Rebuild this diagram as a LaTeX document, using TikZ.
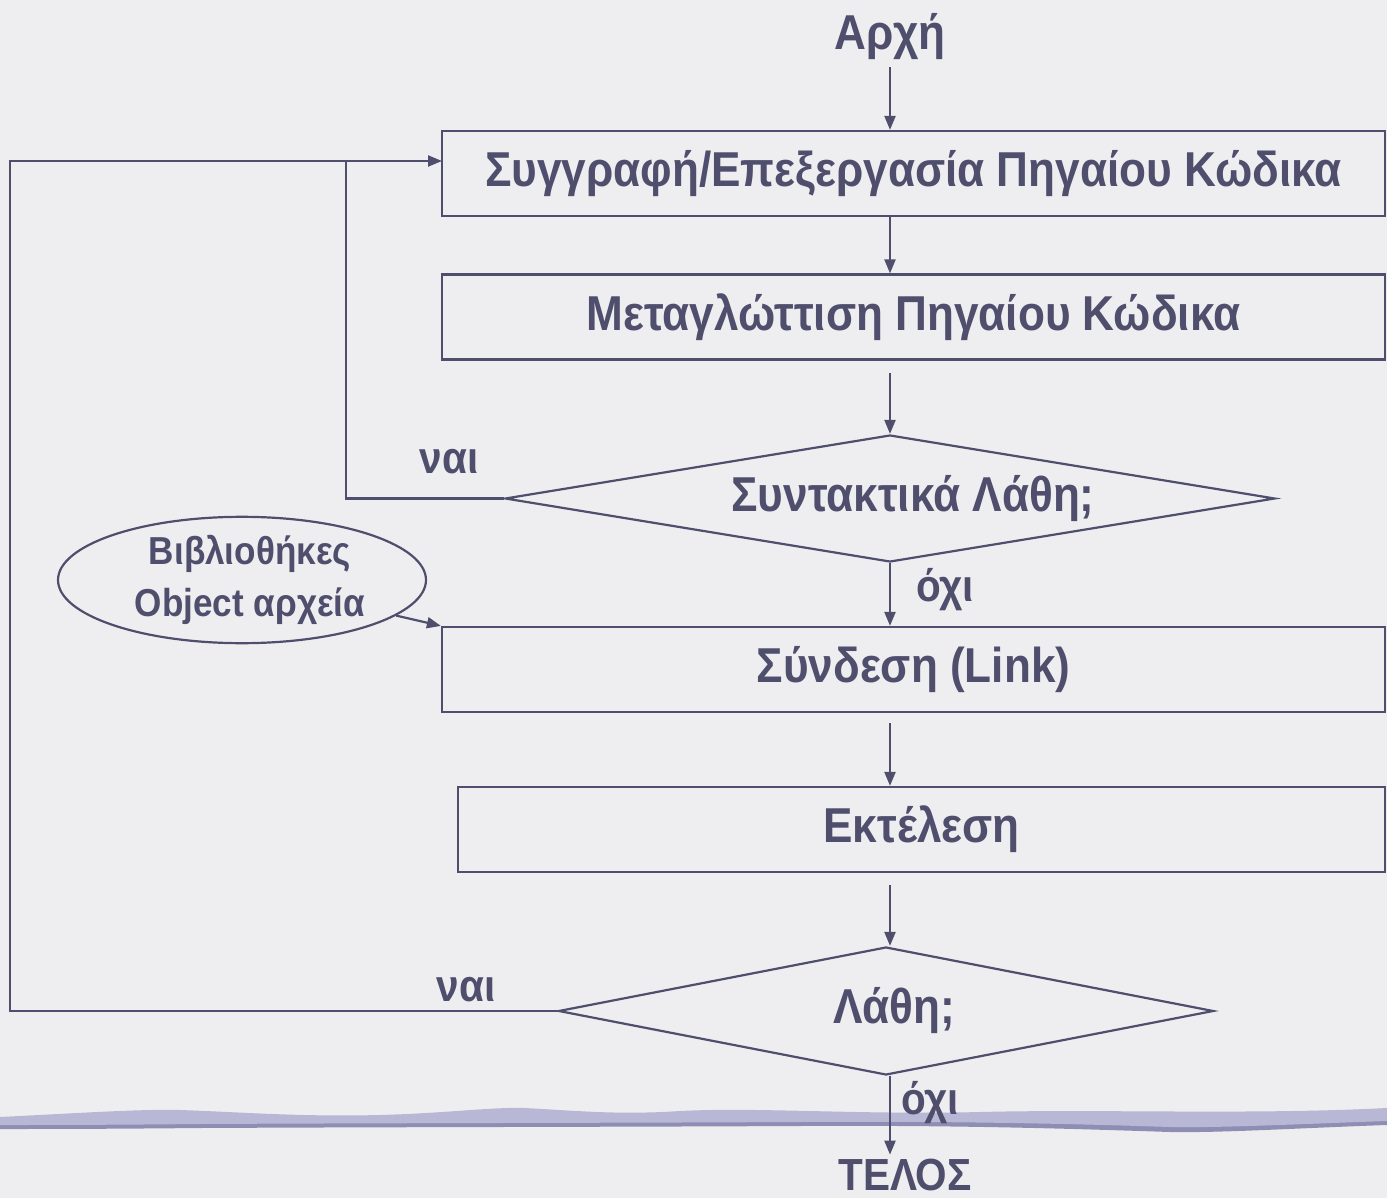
\documentclass[tikz,border=0pt]{standalone}
\usepackage{fontspec}
\newfontfamily\flowfont{Liberation Sans}[UprightFont=* Bold, FakeStretch=0.9]
\usetikzlibrary{shapes.geometric,arrows.meta,calc}
\definecolor{ink}{HTML}{4F4F6D}
\definecolor{paper}{HTML}{EEEEF1}
\definecolor{wave}{HTML}{B8B8D6}
\definecolor{wavedark}{HTML}{8E8EB4}

\begin{document}
\begin{tikzpicture}[x=0.5pt,y=-0.5pt,
  font=\flowfont\fontsize{24.5}{27}\selectfont,
  every node/.style={text=ink},
  box/.style={draw=ink, line width=1.1pt, rectangle, minimum height=42.5pt, inner sep=0pt},
  choice/.style={draw=ink, line width=1.1pt, diamond, inner sep=0pt},
  note/.style={draw=ink, line width=1.1pt, ellipse, minimum width=184pt, minimum height=62pt, inner sep=0pt},
  answer/.style={font=\flowfont\fontsize{22.5}{25}\selectfont},
  flow/.style={draw=ink, line width=1.1pt, -{Triangle[length=7pt,width=5.5pt]}},
  plain/.style={draw=ink, line width=1.1pt}]

% Background
\fill[paper] (0,0) rectangle (1387,1198);
\useasboundingbox (0,0) rectangle (1387,1198);

% Wavy band
\fill[wavedark] (0,1118) .. controls (80,1114) and (140,1110) .. (180,1111)
  .. controls (240,1113) and (300,1118) .. (380,1116)
  .. controls (450,1114) and (490,1108) .. (525,1109)
  .. controls (580,1112) and (620,1116) .. (680,1112)
  .. controls (760,1108) and (860,1116) .. (980,1113)
  .. controls (1100,1110) and (1250,1116) .. (1387,1109)
  -- (1387,1125) .. controls (1300,1128) and (1220,1133) .. (1170,1132)
  .. controls (1080,1129) and (960,1125) .. (800,1126)
  .. controls (600,1127) and (400,1127) .. (200,1128)
  .. controls (100,1129) and (40,1129) .. (0,1129) -- cycle;
\fill[wave] (0,1117) .. controls (80,1113) and (140,1109) .. (180,1110)
  .. controls (240,1112) and (300,1117) .. (380,1115)
  .. controls (450,1113) and (490,1107) .. (525,1108)
  .. controls (580,1111) and (620,1115) .. (680,1111)
  .. controls (760,1107) and (860,1115) .. (980,1112)
  .. controls (1100,1109) and (1250,1115) .. (1387,1108)
  -- (1387,1121) .. controls (1300,1124) and (1220,1128) .. (1170,1127)
  .. controls (1080,1124) and (960,1121) .. (800,1122)
  .. controls (600,1123) and (400,1123) .. (200,1124)
  .. controls (100,1125) and (40,1125) .. (0,1125) -- cycle;

% Steps
\node (start) at (890,37) {Αρχή};
\node[box, minimum width=471.5pt] (edit) at (913.5,173.5) {Συγγραφή/Επεξεργασία Πηγαίου Κώδικα};
\node[box, minimum width=471.5pt] (compile) at (913.5,317) {Μεταγλώττιση Πηγαίου Κώδικα};
\node[choice, minimum width=385pt, minimum height=63.5pt,
  label={[xshift=11.5pt]center:Συντακτικά Λάθη;}] (syntax) at (890,498.5) {};
\node[box, minimum width=471.5pt] (link) at (913.5,669.5) {Σύνδεση (Link)};
\node[box, minimum width=463.5pt] (run) at (921.5,829.5) {Εκτέλεση};
\node[choice, minimum width=327.5pt, minimum height=64pt,
  label={[xshift=4pt]center:Λάθη;}] (errors) at (886,1011) {};
\node[answer, inner sep=2pt] (finish) at (905,1175) {ΤΕΛΟΣ};

% Libraries
\node[note, align=center, font=\flowfont\fontsize{19.5}{26}\selectfont] (lib) at (242,580)
  {\hspace*{8pt}Βιβλιοθήκες\\\hspace*{8pt}Object αρχεία};

% Answers
\node[answer] (yesA) at (449,462) {ναι};
\node[answer] (noA) at (945,590) {όχι};
\node[answer] (yesB) at (466,990) {ναι};
\node[answer] (noB) at (930,1103) {όχι};

% Loop points
\coordinate (editin) at (442,161);
\coordinate (loopA) at (346,161);
\coordinate (loopB) at (10,161);

% Arrows
\draw[flow] (start.south) -- (edit.north -| start);
\draw[flow] (edit.south -| start) -- (compile.north -| start);
\draw[flow] ([yshift=-6]compile.south -| start) -- (syntax.north);
\draw[flow] (syntax.south) -- (link.north -| syntax);
\draw[flow] ([yshift=-5]link.south -| start) -- (run.north -| start);
\draw[flow] ([yshift=-6]run.south -| start) -- (errors.north -| start);
\draw[flow] (errors.south -| start) -- (finish.north -| start);
\draw[flow] (lib) -- (link.north west);
\draw[flow] (syntax.west) -| (loopA) -- (editin);
\draw[plain] (errors.west) -| (loopB) -- (loopA);

\end{tikzpicture}
\end{document}
